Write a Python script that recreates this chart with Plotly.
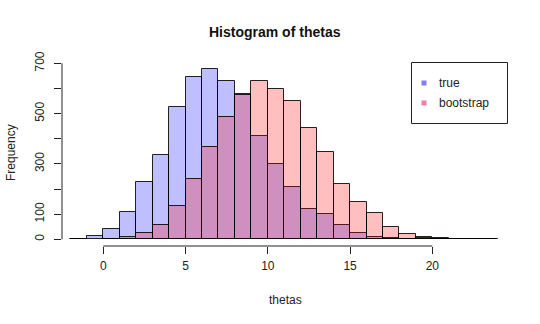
import plotly.graph_objects as go

# Histogram counts, unit-width bins (left edges listed)
true_edges = list(range(-2, 23))
true_counts = [3, 14, 41, 110, 227, 334, 525, 644, 676, 631, 578, 410, 298,
               208, 122, 99, 56, 27, 10, 7, 3, 4, 2, 1, 0]
boot_edges = list(range(0, 24))
boot_counts = [2, 10, 24, 58, 132, 239, 366, 485, 572, 631, 599, 549, 444,
               346, 221, 149, 103, 48, 20, 8, 6, 3, 0, 1]

x_ticks = [0, 5, 10, 15, 20]
y_ticks = [0, 100, 200, 300, 400, 500, 600, 700]
y_tick_text = ["0", "100", "", "300", "", "500", "", "700"]

series_names = ["true", "bootstrap"]
fills = ["rgba(0,0,255,0.25)", "rgba(255,0,0,0.25)"]
key_colors = ["rgba(0,0,255,0.5)", "rgba(230,0,60,0.5)"]

W, H = 540, 324
L, R, T, B = 62, 510, 50, 246  # plot area in pixels


def px_x(px):
    return (px - L) / (R - L)


def px_y(py):
    return (B - py) / (B - T)


fig = go.Figure()
for edges, counts, name, fill in [(true_edges, true_counts, series_names[0], fills[0]),
                                  (boot_edges, boot_counts, series_names[1], fills[1])]:
    fig.add_trace(go.Bar(
        x=[e + 0.5 for e in edges], y=counts, width=1, name=name,
        marker=dict(color=fill, line=dict(color="rgba(0,0,0,0.85)", width=1)),
        showlegend=False, hoverinfo="x+y",
    ))

font = "Liberation Sans, Arial, sans-serif"
shapes = [
    dict(type="line", xref="x", yref="paper", x0=x_ticks[0], x1=x_ticks[-1], y0=0, y1=0,
         line=dict(color="#222", width=1)),
    dict(type="line", xref="paper", yref="y", x0=0, x1=0, y0=y_ticks[0], y1=y_ticks[-1],
         line=dict(color="#222", width=1)),
    dict(type="rect", xref="paper", yref="paper", x0=px_x(411.5), x1=px_x(507.5),
         y0=px_y(123.5), y1=px_y(62.5), line=dict(color="#222", width=1)),
]
annotations = [
    dict(text="<b>Histogram of thetas</b>", xref="paper", yref="paper", x=px_x(275), y=px_y(32),
         showarrow=False, font=dict(size=14, color="#111", family=font), xanchor="center", yanchor="middle"),
    dict(text="thetas", xref="paper", yref="paper", x=px_x(285), y=px_y(300),
         showarrow=False, font=dict(size=12, color="#222", family=font), xanchor="center", yanchor="middle"),
    dict(text="Frequency", xref="paper", yref="paper", x=px_x(11), y=px_y(153), textangle=-90,
         showarrow=False, font=dict(size=12, color="#222", family=font), xanchor="center", yanchor="middle"),
]
for i, (name, col) in enumerate(zip(series_names, key_colors)):
    cy = 83 + 20 * i
    shapes.append(dict(type="rect", xref="paper", yref="paper", x0=px_x(421.5), x1=px_x(426.5),
                       y0=px_y(cy + 2.5), y1=px_y(cy - 2.5), line=dict(width=0), fillcolor=col))
    annotations.append(dict(text=name, xref="paper", yref="paper", x=px_x(437), y=px_y(cy),
                            showarrow=False, xanchor="left", yanchor="middle",
                            font=dict(size=12, color="#222", family=font)))

fig.update_layout(
    width=W, height=H, autosize=False,
    margin=dict(l=L, r=W - R, t=T, b=H - B, pad=0),
    paper_bgcolor="white", plot_bgcolor="white",
    barmode="overlay", bargap=0,
    font=dict(family=font, size=12, color="#222"),
    xaxis=dict(range=[(L - 103.3) / 16.45, (R - 103.3) / 16.45], tickvals=x_ticks,
               showgrid=False, zeroline=False, showline=False,
               ticks="outside", ticklen=7, tickcolor="#222", tickwidth=1,
               ticklabelstandoff=2,
               tickfont=dict(size=12, color="#222")),
    yaxis=dict(range=[(239.3 - B) / 0.25143, (239.3 - T) / 0.25143], tickvals=y_ticks,
               ticktext=y_tick_text, tickangle=-90,
               showgrid=False, zeroline=False, showline=False,
               ticks="outside", ticklen=7, tickcolor="#222", tickwidth=1,
               ticklabelstandoff=5,
               tickfont=dict(size=12, color="#222")),
    shapes=shapes, annotations=annotations,
)

fig.write_html("out.html")
